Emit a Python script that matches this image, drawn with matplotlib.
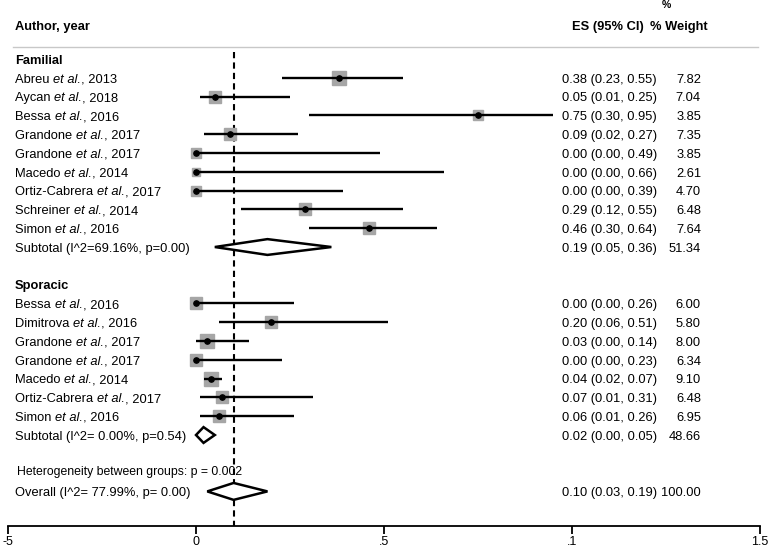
import numpy as np
import matplotlib.pyplot as plt
from matplotlib.patches import Polygon

plt.rcParams['font.family'] = 'Liberation Sans'

# Familial studies
fam_authors = ['Abreu', 'Aycan', 'Bessa', 'Grandone', 'Grandone', 'Macedo',
               'Ortiz-Cabrera', 'Schreiner', 'Simon']
fam_years = ['2013', '2018', '2016', '2017', '2017', '2014', '2017', '2014', '2016']
fam_es = [0.38, 0.05, 0.75, 0.09, 0.00, 0.00, 0.00, 0.29, 0.46]
fam_lo = [0.23, 0.01, 0.30, 0.02, 0.00, 0.00, 0.00, 0.12, 0.30]
fam_hi = [0.55, 0.25, 0.95, 0.27, 0.49, 0.66, 0.39, 0.55, 0.64]
fam_w = [7.82, 7.04, 3.85, 7.35, 3.85, 2.61, 4.70, 6.48, 7.64]

# Sporadic studies
spo_authors = ['Bessa', 'Dimitrova', 'Grandone', 'Grandone', 'Macedo',
               'Ortiz-Cabrera', 'Simon']
spo_years = ['2016', '2016', '2017', '2017', '2014', '2017', '2016']
spo_es = [0.00, 0.20, 0.03, 0.00, 0.04, 0.07, 0.06]
spo_lo = [0.00, 0.06, 0.00, 0.00, 0.02, 0.01, 0.01]
spo_hi = [0.26, 0.51, 0.14, 0.23, 0.07, 0.31, 0.26]
spo_w = [6.00, 5.80, 8.00, 6.34, 9.10, 6.48, 6.95]

# Pooled estimates
sub_labels = ['Subtotal (I^2=69.16%, p=0.00)', 'Subtotal (I^2= 0.00%, p=0.54)']
sub_es = [0.19, 0.02]
sub_lo = [0.05, 0.00]
sub_hi = [0.36, 0.05]
sub_w = [51.34, 48.66]
overall_label = 'Overall (I^2= 77.99%, p= 0.00)'
overall_es, overall_lo, overall_hi, overall_w = 0.10, 0.03, 0.19, 100.00
het_text = 'Heterogeneity between groups: p = 0.002'

xticks = [-0.5, 0, 0.5, 1, 1.5]
xtick_labels = ['-5', '0', '.5', '.1', '1.5']

fs = 9.3
x_lab = -0.481   # label column
x_es = 1.226     # ES column (right edge)
x_w = 1.343      # weight column (right edge)
base = 0.25      # baseline offset below row centre (rows)

fig = plt.figure(figsize=(7.68, 5.53), dpi=100)
ax = fig.add_axes([8 / 768, 27 / 553, 752 / 768, 526 / 553])
ax.set_xlim(-0.5, 1.5)
ax.set_ylim(24.84, -3.14)
renderer = fig.canvas.get_renderer()

def right_edge(t):
    # data x of the right edge of a text
    bb = t.get_window_extent(renderer)
    return ax.transData.inverted().transform((bb.x1, bb.y0))[0]

def txt(x, r, s, **kw):
    return ax.text(x, r + base, s, fontsize=kw.pop('fontsize', fs), va='baseline', **kw)

def study_label(a, yr, r):
    # author, italic "et al.", then year
    t1 = txt(x_lab, r, a + ' ', ha='left')
    t2 = txt(right_edge(t1), r, 'et al.', style='italic', ha='left')
    txt(right_edge(t2), r, ', ' + yr, ha='left')

def draw_studies(start, authors, years, es, lo, hi, w):
    rows = np.arange(start, start + len(es))
    for r, a, yr, e, l, h, ww in zip(rows, authors, years, es, lo, hi, w):
        ax.plot([l, h], [r, r], color='black', lw=1.7, solid_capstyle='butt', zorder=3)
        ax.plot(e, r, marker='s', ms=3.35 * np.sqrt(ww), color='#a6a6a6', mec='#a6a6a6', zorder=2)
        ax.plot(e, r, marker='o', ms=3.8, color='black', zorder=4)
        study_label(a, yr, r)
        txt(x_es, r, '%.2f (%.2f, %.2f)' % (e, l, h), ha='right')
        txt(x_w, r, '%.2f' % ww, ha='right')
    return rows

def draw_diamond(r, e, l, h, label, w, h_half=0.42):
    d = Polygon([[l, r], [e, r - h_half], [h, r], [e, r + h_half]], closed=True,
                facecolor='white', edgecolor='black', lw=1.8, zorder=5)
    ax.add_patch(d)
    txt(x_lab, r, label, ha='left')
    txt(x_es, r, '%.2f (%.2f, %.2f)' % (e, l, h), ha='right')
    txt(x_w, r, '%.2f' % w, ha='right')

# headers
txt(x_lab, -1.8, 'Author, year', fontweight='bold', ha='left')
txt(1.19, -1.8, 'ES (95% CI)', fontweight='bold', ha='right')
txt(x_w + 0.018, -1.8, '% Weight', fontweight='bold', ha='right')
txt(1.25, -2.95, '%', fontsize=7.5, fontweight='bold', ha='center')
ax.plot([-0.487, 1.495], [-0.64, -0.64], color='#c8c8c8', lw=1, clip_on=False)

# familial group
txt(x_lab, 0, 'Familial', fontweight='bold', ha='left')
draw_studies(1, fam_authors, fam_years, fam_es, fam_lo, fam_hi, fam_w)
draw_diamond(10, sub_es[0], sub_lo[0], sub_hi[0], sub_labels[0], sub_w[0])

# sporadic group
txt(x_lab, 12, 'Sporacic', fontweight='bold', ha='left')
draw_studies(13, spo_authors, spo_years, spo_es, spo_lo, spo_hi, spo_w)
draw_diamond(20, sub_es[1], sub_lo[1], sub_hi[1], sub_labels[1], sub_w[1])

# overall
txt(x_lab + 0.006, 21.9, het_text, fontsize=fs * 0.95, ha='left')
draw_diamond(23, overall_es, overall_lo, overall_hi, overall_label, overall_w, h_half=0.45)

# reference line at overall estimate
ax.plot([overall_es, overall_es], [-0.37, 24.84], color='black', lw=1.5,
        linestyle=(0, (3, 2)), zorder=1)

# axis styling
for s in ['top', 'left', 'right']:
    ax.spines[s].set_visible(False)
ax.spines['bottom'].set_linewidth(1.3)
ax.set_yticks([])
ax.set_xticks(xticks)
ax.set_xticklabels(xtick_labels)
ax.tick_params(axis='x', length=6, width=1.3, labelsize=9, pad=1)

fig.savefig('out.png', dpi=100)
